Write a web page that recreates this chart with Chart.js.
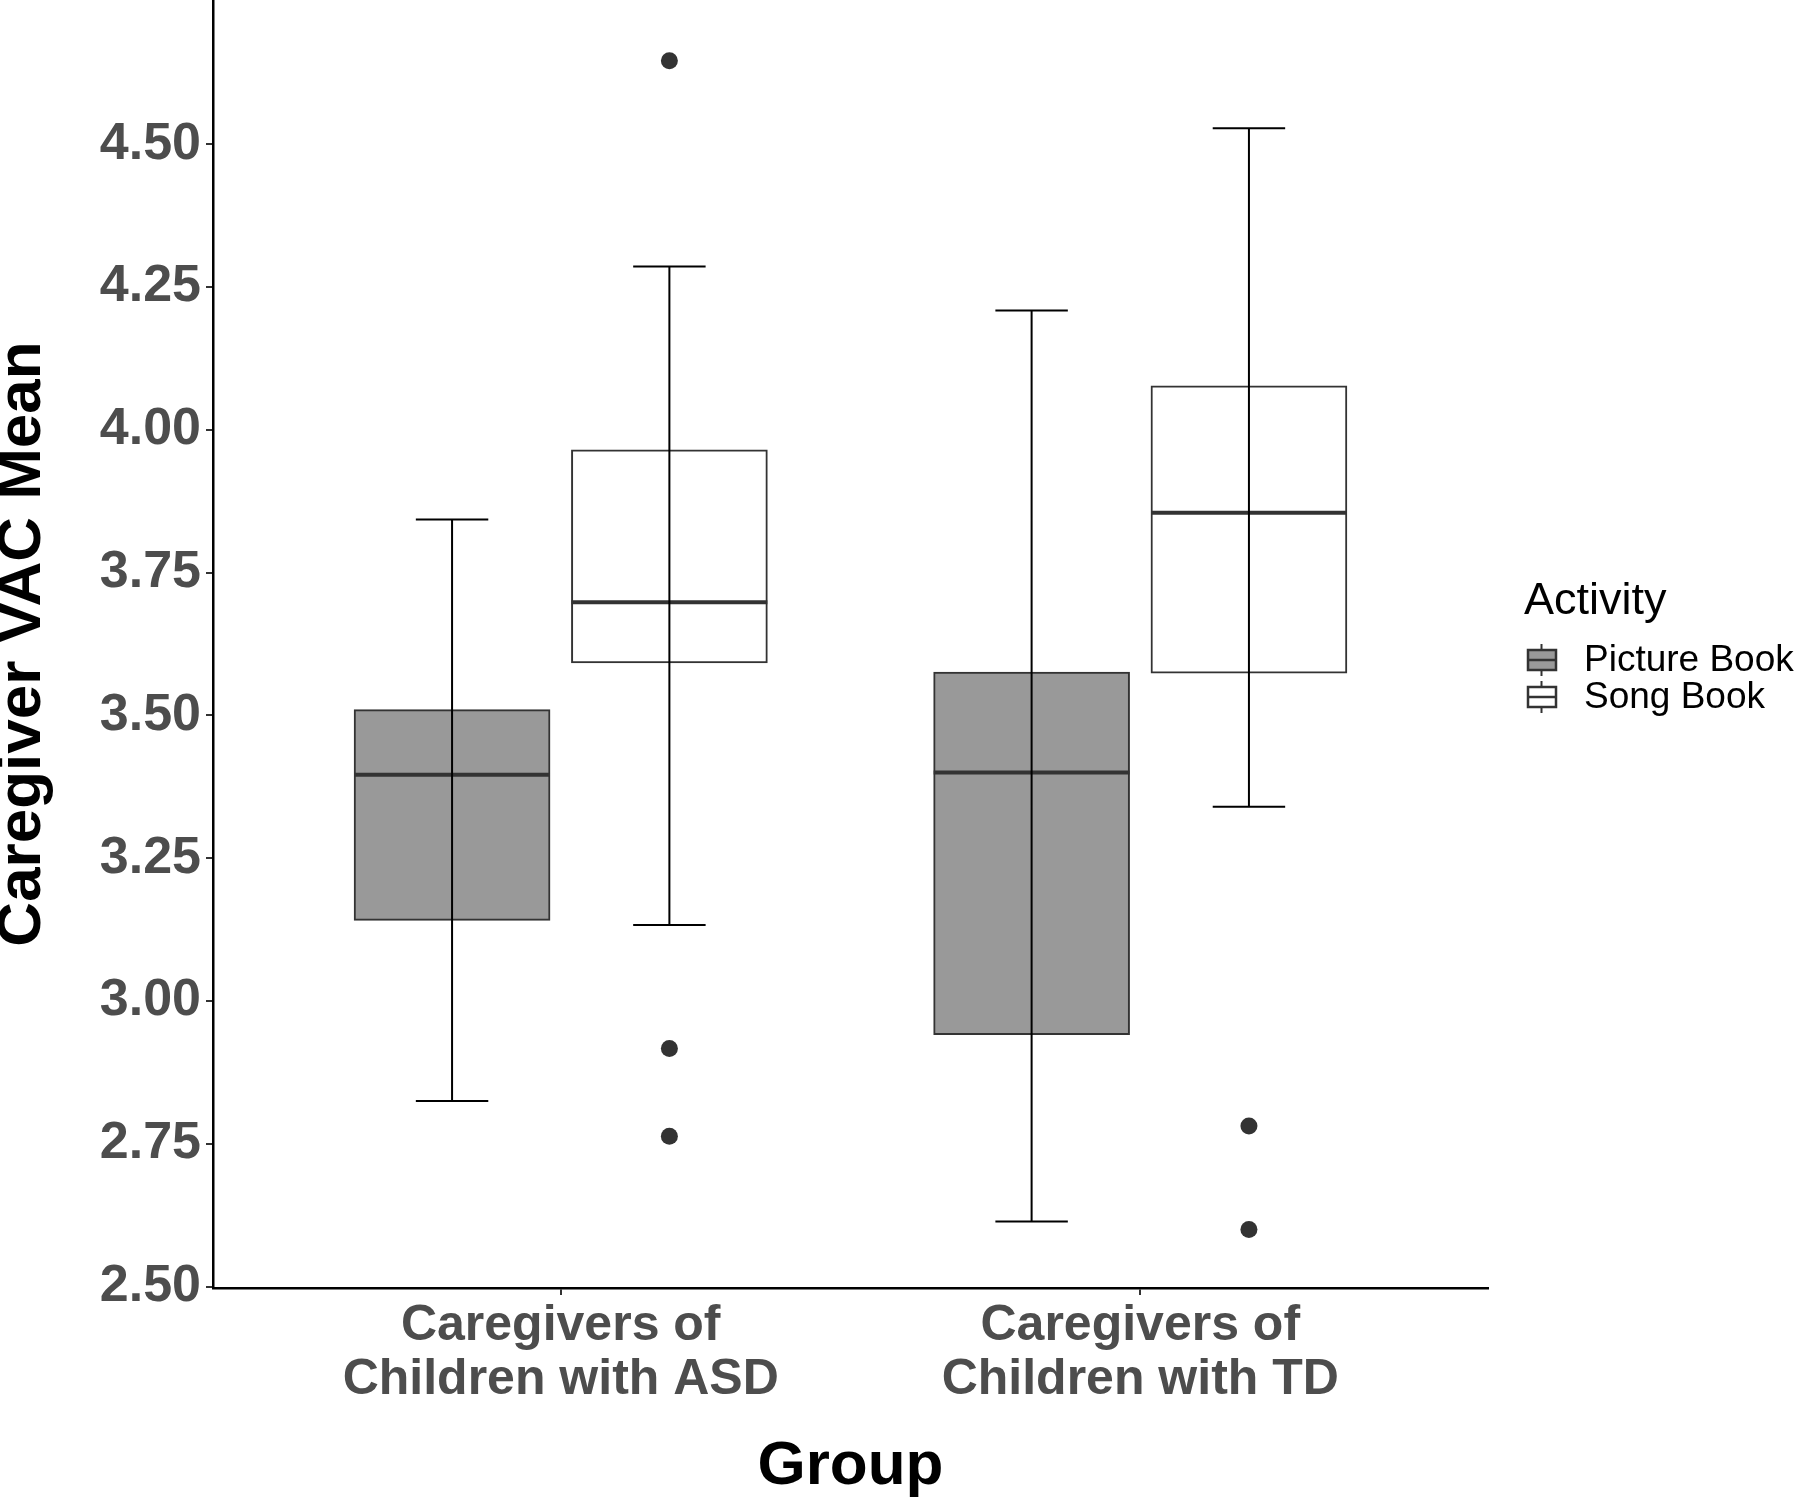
<!DOCTYPE html>
<html>
<head>
<meta charset="utf-8">
<script src="https://cdn.jsdelivr.net/npm/chart.js@4.4.1/dist/chart.umd.min.js"></script>
<style>
	html, body { margin: 0; padding: 0; background: #ffffff; }
</style>
</head>
<body>
<canvas id="VAC_Plot" width="1800" height="1505"></canvas>
<script>

// Groups on the x axis (two-line labels) and the two activities
const groups = [["Caregivers of", "Children with ASD"], ["Caregivers of", "Children with TD"]];
const activities = ["Picture Book", "Song Book"];

// Box stats: [ASD, TD]
const picture_low = [2.825, 2.614];
const picture_q1 = [3.141, 2.941];
const picture_median = [3.396, 3.400];
const picture_q3 = [3.510, 3.576];
const picture_high = [3.843, 4.209];
const picture_outliers = [[], []];

const song_low = [3.133, 3.340];
const song_q1 = [3.592, 3.574];
const song_median = [3.698, 3.855];
const song_q3 = [3.965, 4.077];
const song_high = [4.286, 4.528];
const song_outliers = [[4.646, 2.917, 2.763], [2.781, 2.600]];

const y_ticks = [2.50, 2.75, 3.00, 3.25, 3.50, 3.75, 4.00, 4.25, 4.50];

const FONT = "'Liberation Sans', Arial, Helvetica, sans-serif";

// ggplot-ish layout in axis units
const group_pos = [1, 2];
const dodge = 0.1875;      // offset of each activity from the group centre
const cap_half = 0.0625;   // half width of the whisker caps
const median_half = 0.169; // half width of the median bar (matches box)

const picture_x = group_pos.map(p => p - dodge);
const song_x = group_pos.map(p => p + dodge);

function Box_Data(xs, q1, q3) {
	return xs.map((x, i) => ({ x: x, y: [q1[i], q3[i]] }));
}

// horizontal segments separated by gaps
function Median_Data(xs, med) {
	let out = [];
	xs.forEach((x, i) => {
		out.push({ x: x - median_half, y: med[i] }, { x: x + median_half, y: med[i] }, { x: x, y: null });
	});
	return out;
}

// errorbar: bottom cap, vertical line, top cap
function Whisker_Data(xs, low, high) {
	let out = [];
	xs.forEach((x, i) => {
		out.push({ x: x - cap_half, y: low[i] }, { x: x + cap_half, y: low[i] }, { x: x, y: null });
		out.push({ x: x, y: low[i] }, { x: x, y: high[i] }, { x: x, y: null });
		out.push({ x: x - cap_half, y: high[i] }, { x: x + cap_half, y: high[i] }, { x: x, y: null });
	});
	return out;
}

function Outlier_Data(xs, outliers) {
	let out = [];
	xs.forEach((x, i) => outliers[i].forEach(v => out.push({ x: x, y: v })));
	return out;
}

// Legend drawn by hand so it can show the little boxplot glyphs
const Activity_Legend = {
	id: "activity_legend",
	afterDraw(chart) {
		const ctx = chart.ctx;
		ctx.save();
		ctx.fillStyle = "#000000";
		ctx.font = "45px " + FONT;
		ctx.textAlign = "left";
		ctx.textBaseline = "alphabetic";
		ctx.fillText("Activity", 1524, 614);

		const fills = ["#999999", "#ffffff"];
		const rows = [660, 697];
		activities.forEach((name, i) => {
			const cy = rows[i];
			ctx.strokeStyle = "#333333";
			ctx.lineWidth = 2;
			ctx.beginPath();
			ctx.moveTo(1541.5, cy - 16);
			ctx.lineTo(1541.5, cy + 16);
			ctx.stroke();
			ctx.lineWidth = 2.5;
			ctx.fillStyle = fills[i];
			ctx.fillRect(1528, cy - 10, 28, 20);
			ctx.strokeRect(1528, cy - 10, 28, 20);
			ctx.beginPath();
			ctx.moveTo(1528, cy);
			ctx.lineTo(1556, cy);
			ctx.stroke();

			ctx.fillStyle = "#000000";
			ctx.font = "37px " + FONT;
			ctx.textBaseline = "middle";
			ctx.fillText(name, 1584, cy + 1);
		});
		ctx.restore();
	}
};

const vac_plot = document.getElementById("VAC_Plot").getContext("2d");

var VAC_Plot_Obj = new Chart(vac_plot, {
	type: "scatter",
	data: {
		datasets: [
			{
				// Picture Book boxes
				type: "bar",
				label: activities[0],
				data: Box_Data(picture_x, picture_q1, picture_q3),
				backgroundColor: "#999999",
				borderColor: "#333333",
				borderWidth: 2,
				borderSkipped: false,
				barThickness: 196,
				grouped: false,
				order: 4,
			},
			{
				// Song Book boxes
				type: "bar",
				label: activities[1],
				data: Box_Data(song_x, song_q1, song_q3),
				backgroundColor: "#ffffff",
				borderColor: "#333333",
				borderWidth: 2,
				borderSkipped: false,
				barThickness: 196,
				grouped: false,
				order: 4,
			},
			{
				// Medians
				type: "line",
				data: Median_Data(picture_x, picture_median).concat(Median_Data(song_x, song_median)),
				borderColor: "#333333",
				borderWidth: 4,
				pointRadius: 0,
				spanGaps: false,
				fill: false,
				order: 3,
			},
			{
				// Errorbars
				type: "line",
				data: Whisker_Data(picture_x, picture_low, picture_high).concat(Whisker_Data(song_x, song_low, song_high)),
				borderColor: "#000000",
				borderWidth: 2,
				pointRadius: 0,
				spanGaps: false,
				fill: false,
				order: 2,
			},
			{
				// Outliers
				type: "scatter",
				data: Outlier_Data(picture_x, picture_outliers).concat(Outlier_Data(song_x, song_outliers)),
				backgroundColor: "#333333",
				borderWidth: 0,
				pointRadius: 8.5,
				order: 1,
			}
		]
	},
	options: {
		responsive: false,
		animation: false,
		layout: {
			autoPadding: false,
			padding: { left: 0, right: 312, top: 0, bottom: 0 }
		},
		plugins: {
			legend: { display: false },
			tooltip: { enabled: false },
		},
		scales: {
			x: {
				type: "linear",
				min: 0.4,
				max: 2.6,
				offset: false,
				afterBuildTicks: (s) => { s.ticks = group_pos.map(v => ({ value: v })); },
				afterFit: (s) => { s.height = 217; s.paddingLeft = 0; s.paddingRight = 0; },
				ticks: {
					autoSkip: false,
					maxRotation: 0,
					padding: 4,
					color: "#4d4d4d",
					font: { family: FONT, size: 50, weight: "bold", lineHeight: 1.08 },
					callback: (v, i) => groups[i],
				},
				grid: {
					display: true,
					offset: false,
					drawOnChartArea: false,
					drawTicks: true,
					tickLength: 7,
					color: "#333333",
					lineWidth: 2,
				},
				border: { display: true, color: "#000000", width: 2.5 },
				title: {
					display: true,
					text: "Group",
					color: "#000000",
					font: { family: FONT, size: 62, weight: "bold", lineHeight: 1 },
					padding: { top: 0, bottom: 7 },
				},
			},
			y: {
				min: 2.4975,
				max: 4.7525,
				afterBuildTicks: (s) => { s.ticks = y_ticks.map(v => ({ value: v })); },
				afterFit: (s) => { s.width = 213; s.paddingTop = 0; s.paddingBottom = 0; },
				ticks: {
					padding: 5,
					color: "#4d4d4d",
					font: { family: FONT, size: 52, weight: "bold" },
					callback: (v) => Number(v).toFixed(2),
				},
				grid: {
					display: true,
					drawOnChartArea: false,
					drawTicks: true,
					tickLength: 7,
					color: "#333333",
					lineWidth: 2,
				},
				border: { display: true, color: "#000000", width: 2.5 },
				title: {
					display: true,
					text: "Caregiver VAC Mean",
					color: "#000000",
					font: { family: FONT, size: 62, weight: "bold", lineHeight: 0.74 },
					padding: { top: 0, bottom: 0 },
				},
			}
		},
		events: [], // No hover
	},
	plugins: [Activity_Legend]
});

</script>
</body>
</html>
